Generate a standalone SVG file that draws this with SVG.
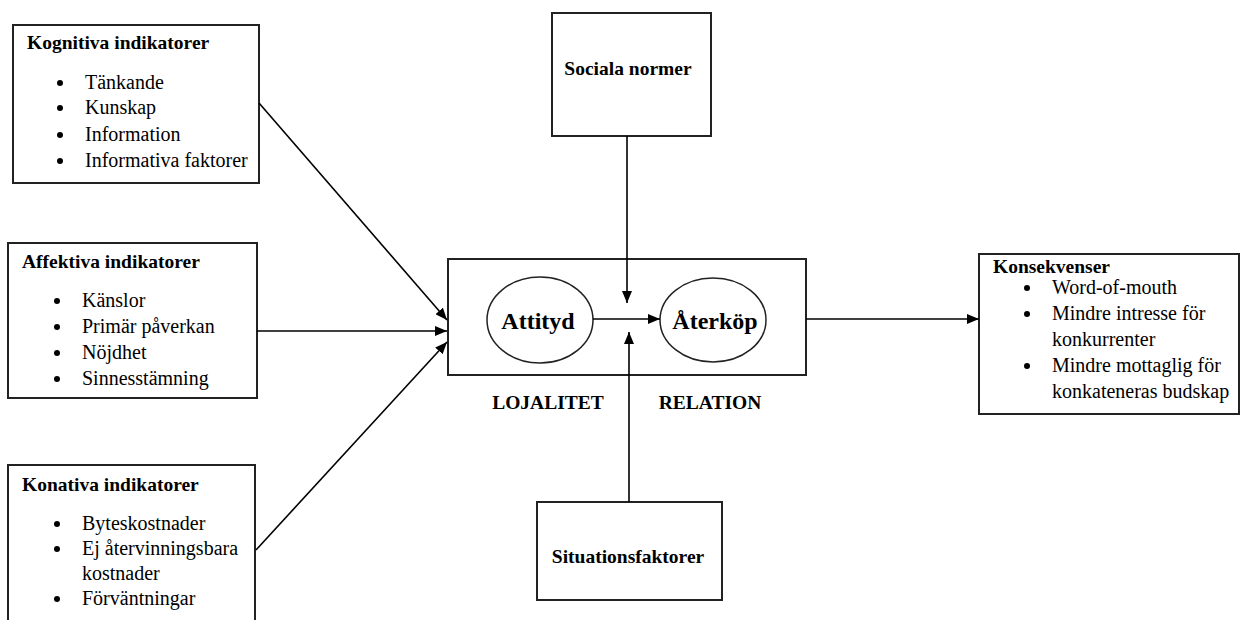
<svg xmlns="http://www.w3.org/2000/svg" width="1242" height="620" viewBox="0 0 1242 620">
<defs>
<marker id="ah" viewBox="0 0 12 10" refX="12" refY="5" markerWidth="12" markerHeight="10" markerUnits="userSpaceOnUse" orient="auto">
<path d="M0,0 L12,5 L0,10 Z" fill="#000"/>
</marker>
<style>
.box{fill:#fff;stroke:#222;stroke-width:2}
.ell{fill:#fff;stroke:#222;stroke-width:1.5}
.t{font-family:"Liberation Serif","Times New Roman",serif;font-size:20px;fill:#000}
.b{font-weight:bold;font-size:19.5px}
.big{font-size:24px}
.c{text-anchor:middle}
.ln{stroke:#000;stroke-width:1.6;fill:none}
.dot{fill:#000}
</style>
</defs>
<rect width="1242" height="620" fill="#fff"/>

<g id="kognitiva">
<rect class="box" x="13" y="25" width="246" height="158"/>
<text class="t b" x="27" y="49">Kognitiva indikatorer</text>
<circle class="dot" cx="60" cy="83" r="3"/><text class="t" x="85" y="89">Tänkande</text>
<circle class="dot" cx="60" cy="108" r="3"/><text class="t" x="85" y="114">Kunskap</text>
<circle class="dot" cx="60" cy="135" r="3"/><text class="t" x="85" y="141">Information</text>
<circle class="dot" cx="60" cy="161" r="3"/><text class="t" x="85" y="167">Informativa faktorer</text>
</g>

<g id="affektiva">
<rect class="box" x="8" y="243" width="249" height="155"/>
<text class="t b" x="22" y="268">Affektiva indikatorer</text>
<circle class="dot" cx="57" cy="301" r="3"/><text class="t" x="82" y="307">Känslor</text>
<circle class="dot" cx="57" cy="327" r="3"/><text class="t" x="82" y="333">Primär påverkan</text>
<circle class="dot" cx="57" cy="353" r="3"/><text class="t" x="82" y="359">Nöjdhet</text>
<circle class="dot" cx="57" cy="379" r="3"/><text class="t" x="82" y="385">Sinnesstämning</text>
</g>

<g id="konativa">
<rect class="box" x="8" y="465" width="247" height="160"/>
<text class="t b" x="22" y="491">Konativa indikatorer</text>
<circle class="dot" cx="57" cy="524" r="3"/><text class="t" x="82" y="530">Byteskostnader</text>
<circle class="dot" cx="57" cy="549" r="3"/><text class="t" x="82" y="555">Ej återvinningsbara</text>
<text class="t" x="82" y="580">kostnader</text>
<circle class="dot" cx="57" cy="599" r="3"/><text class="t" x="82" y="605">Förväntningar</text>
</g>

<g id="sociala">
<rect class="box" x="552" y="13" width="159" height="123"/>
<text class="t b c" x="628" y="75">Sociala normer</text>
</g>

<g id="situation">
<rect class="box" x="537" y="502" width="185" height="98"/>
<text class="t b c" x="628" y="563">Situationsfaktorer</text>
</g>

<g id="center">
<rect class="box" x="448" y="259" width="358" height="116"/>
<text class="t b c" x="548" y="409">LOJALITET</text>
<text class="t b c" x="710" y="409">RELATION</text>
</g>

<g id="attityd">
<ellipse class="ell" cx="540" cy="320" rx="53" ry="43"/>
<text class="t b big c" x="538" y="329">Attityd</text>
</g>

<g id="aterkop">
<ellipse class="ell" cx="713" cy="320" rx="53" ry="42"/>
<text class="t b big c" x="715" y="329">Återköp</text>
</g>

<g id="konsekvenser">
<rect class="box" x="979" y="254" width="260" height="160"/>
<text class="t b" x="993" y="273">Konsekvenser</text>
<circle class="dot" cx="1027" cy="288" r="3"/><text class="t" x="1052" y="294">Word-of-mouth</text>
<circle class="dot" cx="1027" cy="314" r="3"/><text class="t" x="1052" y="320">Mindre intresse för</text>
<text class="t" x="1052" y="346">konkurrenter</text>
<circle class="dot" cx="1027" cy="366" r="3"/><text class="t" x="1052" y="372">Mindre mottaglig för</text>
<text class="t" x="1052" y="398">konkateneras budskap</text>
</g>

<g id="connectors">
<line class="ln" x1="259" y1="103" x2="447" y2="320" marker-end="url(#ah)"/>
<line class="ln" x1="257" y1="331" x2="447" y2="331" marker-end="url(#ah)"/>
<line class="ln" x1="256" y1="550" x2="447" y2="342" marker-end="url(#ah)"/>
<line class="ln" x1="593" y1="319" x2="660" y2="319" marker-end="url(#ah)"/>
<line class="ln" x1="627" y1="136" x2="627" y2="303" marker-end="url(#ah)"/>
<line class="ln" x1="629" y1="502" x2="629" y2="332" marker-end="url(#ah)"/>
<line class="ln" x1="806" y1="319" x2="979" y2="319" marker-end="url(#ah)"/>
</g>
</svg>
